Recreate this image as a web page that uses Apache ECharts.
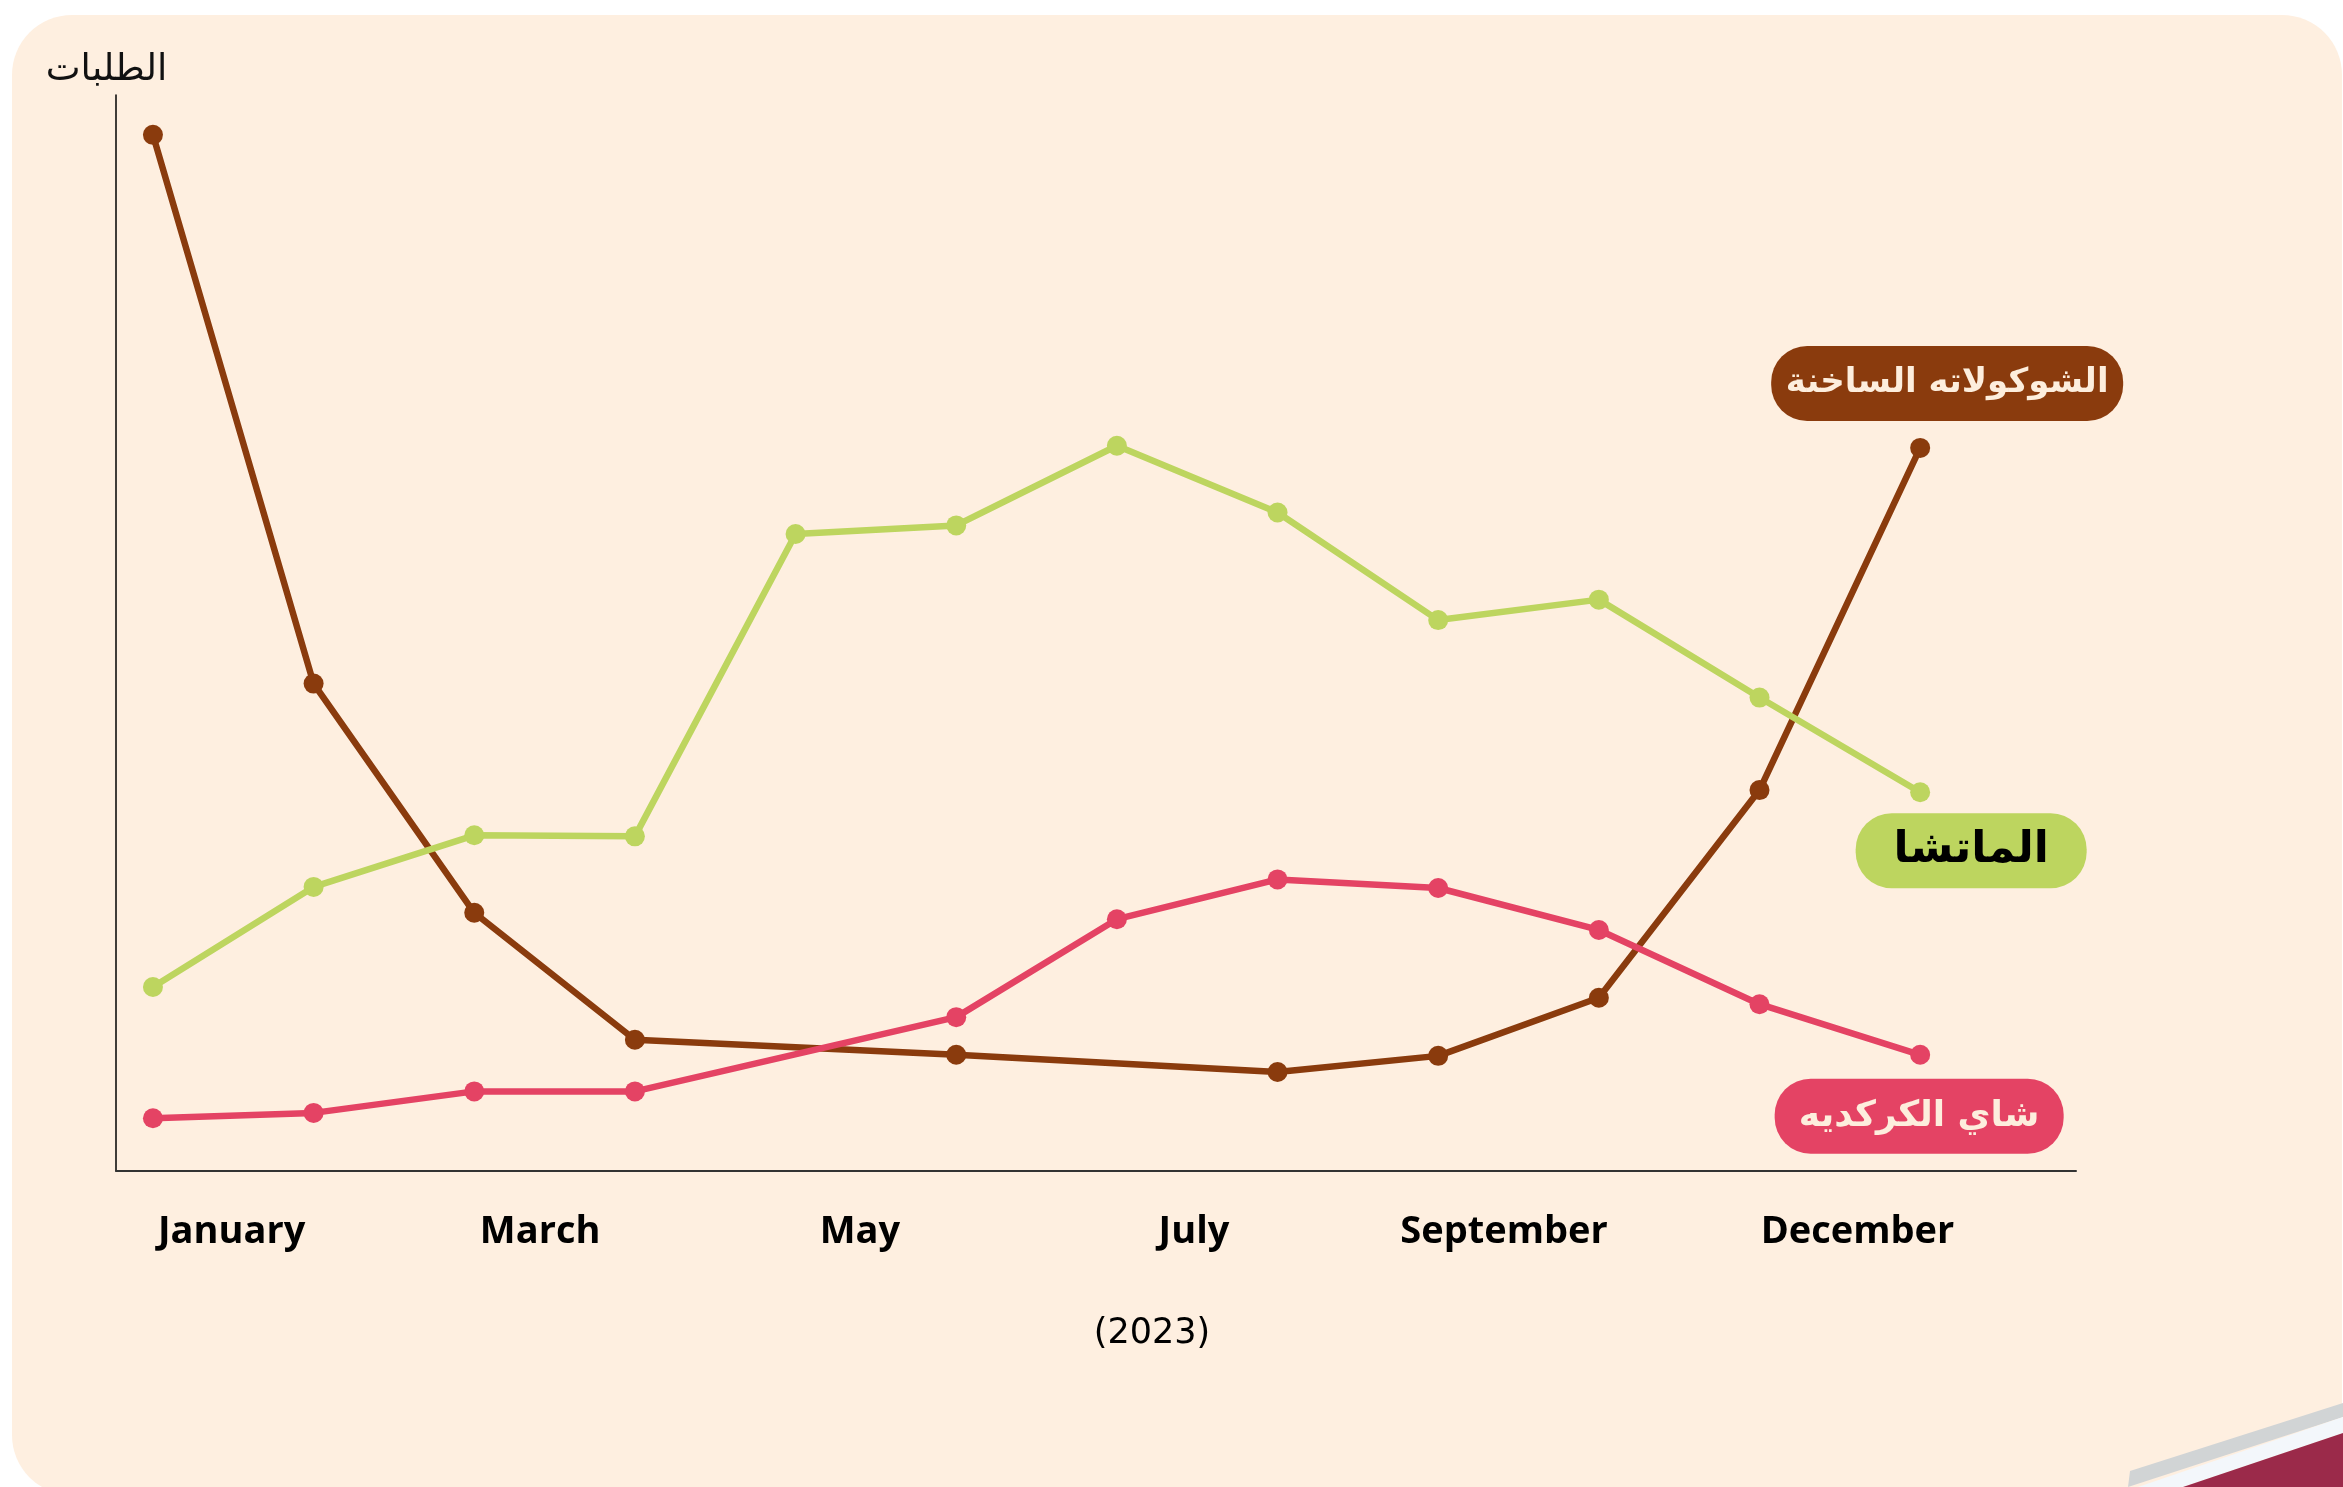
<!DOCTYPE html>
<html>
<head>
<meta charset="utf-8">
<script src="https://cdn.jsdelivr.net/npm/echarts@6/dist/echarts.min.js"></script>
<style>
  html, body { margin: 0; padding: 0; background: #ffffff; }
  #main { width: 2343px; height: 1487px; }
</style>
</head>
<body>
<div id="main"></div>
<script>
// months of 2023, index 0 = January
var months = ['January', 'February', 'March', 'April', 'May', 'June',
  'July', 'August', 'September', 'October', 'November', 'December'];

// orders (relative scale 0-100), null = no point drawn for that month
var chocolate = [96.3, 45.3, 24.0, 12.2, null, 10.8, null, 9.2, 10.7, 16.1, 35.4, 67.2];
var matcha = [17.1, 26.4, 31.2, 31.1, 59.2, 60.0, 67.4, 61.2, 51.2, 53.1, 44.0, 35.2];
var hibiscus = [4.9, 5.4, 7.4, 7.4, null, 14.3, 23.4, 27.1, 26.3, 22.4, 15.5, 10.8];

// where the month names sit on the x axis (in month index units)
var tickPos = [0.49, 2.41, 4.40, 6.48, 8.41, 10.61];
var tickLabels = ['January', 'March', 'May', 'July', 'September', 'December'];

var names = ['الشوكولاته الساخنة', 'الماتشا', 'شاي الكركديه'];
var colors = ['#8a3b0d', '#bdd55f', '#e44364'];

var chart = echarts.init(document.getElementById('main'));

// label boxes attached to the last point of each line
var endLabels = [
  { position: 'top', distance: 17, offset: [27, 0], width: 328, padding: [0, 12], size: 34, color: '#fdeedd' },
  { position: 'bottom', distance: 11, offset: [51, 0], width: 131, padding: [0, 50], size: 44, color: '#000000' },
  { position: 'bottom', distance: 14, offset: [-1, 0], width: 245, padding: [0, 22], size: 36, color: '#fdeedd' }
];

function buildData(values, k) {
  var out = [];
  for (var i = 0; i < values.length; i++) {
    if (values[i] === null) continue;
    var item = { value: [i, values[i]] };
    if (i === values.length - 1) {
      var l = endLabels[k];
      item.label = {
        show: true,
        formatter: names[k],
        position: l.position,
        distance: l.distance,
        offset: l.offset,
        width: l.width,
        height: 75,
        lineHeight: 75,
        padding: l.padding,
        backgroundColor: colors[k],
        borderRadius: 36,
        color: l.color,
        fontFamily: 'DejaVu Sans',
        fontWeight: 'bold',
        fontSize: l.size
      };
    }
    out.push(item);
  }
  return out;
}

var seriesValues = [chocolate, matcha, hibiscus];
var series = [];
for (var k = 0; k < seriesValues.length; k++) {
  series.push({
    type: 'line',
    name: names[k],
    data: buildData(seriesValues[k], k),
    symbol: 'circle',
    symbolSize: 20,
    lineStyle: { width: 6.5, color: colors[k] },
    itemStyle: { color: colors[k] },
    z: 3 + k
  });
}

var option = {
  animation: false,
  backgroundColor: '#ffffff',
  graphic: [
    {
      type: 'rect', z: -10, silent: true,
      shape: { x: 12, y: 15, width: 2330, height: 1480, r: 60 },
      style: { fill: '#feefe0' }
    },
    {
      type: 'polygon', z: 100, silent: true,
      shape: { points: [[2130, 1471], [2343, 1403], [2343, 1417], [2128, 1487]] },
      style: { fill: '#d1d4d5' }
    },
    {
      type: 'polygon', z: 100, silent: true,
      shape: { points: [[2138, 1487], [2343, 1417], [2343, 1433], [2183, 1487]] },
      style: { fill: '#f3f7fb' }
    },
    {
      type: 'polygon', z: 100, silent: true,
      shape: { points: [[2183, 1487], [2343, 1433], [2343, 1487]] },
      style: { fill: '#9b2a4a' }
    }
  ],
  grid: {
    left: 116,
    right: 267,
    top: 95,
    bottom: 316,
    containLabel: false
  },
  xAxis: {
    type: 'value',
    min: -0.23,
    max: 11.97,
    axisLine: { show: true, onZero: false, lineStyle: { color: '#333333', width: 2 } },
    axisTick: { show: false },
    splitLine: { show: false },
    axisLabel: {
      customValues: tickPos,
      formatter: function (val) {
        for (var i = 0; i < tickPos.length; i++) {
          if (Math.abs(tickPos[i] - val) < 0.01) return tickLabels[i];
        }
        return '';
      },
      margin: 42,
      fontFamily: 'Open Sans',
      fontWeight: 'bold',
      fontSize: 38,
      color: '#000000'
    },
    name: '(2023)',
    nameLocation: 'middle',
    nameGap: 145,
    nameTextStyle: {
      fontFamily: 'DejaVu Sans',
      fontSize: 35,
      color: '#000000',
      padding: [0, 0, 0, 112]
    }
  },
  yAxis: {
    type: 'value',
    min: 0,
    max: 100,
    axisLine: { show: true, onZero: false, lineStyle: { color: '#000000', width: 1.5 } },
    axisTick: { show: false },
    axisLabel: { show: false },
    splitLine: { show: false },
    name: 'الطلبات',
    nameLocation: 'end',
    nameGap: 6,
    nameTextStyle: {
      fontFamily: 'DejaVu Sans',
      fontSize: 37,
      color: '#111111',
      padding: [0, 19, 0, 0]
    }
  },
  series: series
};

chart.setOption(option);
</script>
</body>
</html>
